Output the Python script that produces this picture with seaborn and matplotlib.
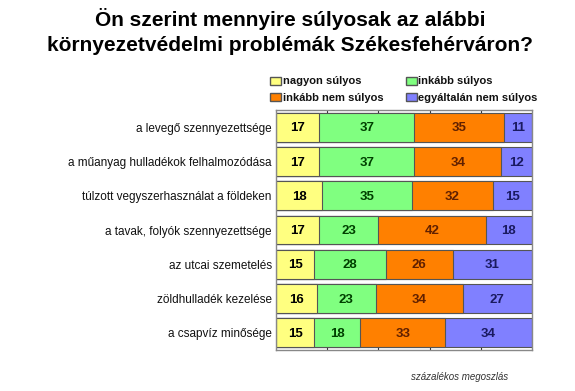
import matplotlib
matplotlib.use("Agg")
import matplotlib.pyplot as plt
import seaborn as sns
import numpy as np
import pandas as pd
from matplotlib.patches import Patch

categories = [
    "a levegő szennyezettsége",
    "a műanyag hulladékok felhalmozódása",
    "túlzott vegyszerhasználat a földeken",
    "a tavak, folyók szennyezettsége",
    "az utcai szemetelés",
    "zöldhulladék kezelése",
    "a csapvíz minősége",
]
series_names = ["nagyon súlyos", "inkább súlyos", "inkább nem súlyos", "egyáltalán nem súlyos"]
nagyon = [17, 17, 18, 17, 15, 16, 15]
inkabb = [37, 37, 35, 23, 28, 23, 18]
inkabb_nem = [35, 34, 32, 42, 26, 34, 33]
egyaltalan = [11, 12, 15, 18, 31, 27, 34]

colors = ["#FFFF80", "#80FF80", "#FF8000", "#8080FF"]
text_colors = ["#000000", "#004000", "#602000", "#1a1a60"]

sns.set_theme(style="white")
plt.rcParams["font.family"] = ["Liberation Sans", "DejaVu Sans"]
plt.rcParams["text.color"] = "#111111"
plt.rcParams["ytick.color"] = "#111111"
plt.rcParams["ytick.labelcolor"] = "#111111"

fig = plt.figure(figsize=(5.75, 3.91), dpi=100)
ax = fig.add_axes([0.48, 0.105, 0.445, 0.613])

vals = [nagyon, inkabb, inkabb_nem, egyaltalan]
cum = np.cumsum(np.array(vals), axis=0)

for i in range(3, -1, -1):
    df = pd.DataFrame({"cat": categories, "v": cum[i]})
    sns.barplot(data=df, x="v", y="cat", orient="h", color=colors[i],
                saturation=1, width=0.84, edgecolor="#555555", linewidth=0.8, ax=ax)

for i in range(4):
    start = cum[i] - np.array(vals[i])
    for j, v in enumerate(vals[i]):
        ax.text(start[j] + v / 2, j + 0.03, str(v), ha="center", va="center",
                fontsize=9.5, fontweight="bold", color=text_colors[i])

ax.set_xlim(0, 100)
ax.set_ylim(6.5, -0.5)
ax.set_xlabel("")
ax.set_ylabel("")
ax.set_xticks([20, 40, 60, 80])
ax.set_xticklabels([])
ax.tick_params(axis="x", which="both", top=True, bottom=True, direction="in", length=3, color="#333333", width=0.8)
ax.tick_params(axis="y", length=0, labelsize=8.5, pad=3)
for s in ax.spines.values():
    s.set_visible(True)
    s.set_color("#888888")
    s.set_linewidth(1.0)

handles = [Patch(facecolor=c, edgecolor="#555555", label=n) for c, n in zip(colors, series_names)]
order = [0, 2, 1, 3]
leg = fig.legend(handles=[handles[k] for k in order], loc="upper left", bbox_to_anchor=(0.452, 0.83), ncol=2,
                 frameon=False, fontsize=8, handlelength=1.0, handleheight=0.75,
                 handletextpad=0.15, columnspacing=2.0, labelspacing=0.6)
for t in leg.get_texts():
    t.set_fontweight("bold")

fig.text(0.505, 0.98, "Ön szerint mennyire súlyosak az alábbi\nkörnyezetvédelmi problémák Székesfehérváron?",
         ha="center", va="top", fontsize=15, fontweight="bold", linespacing=1.4, color="black")
fig.text(0.80, 0.035, "százalékos megoszlás", ha="center", va="center", fontsize=7, style="italic", color="#333333")

fig.savefig("out.png", dpi=100)
